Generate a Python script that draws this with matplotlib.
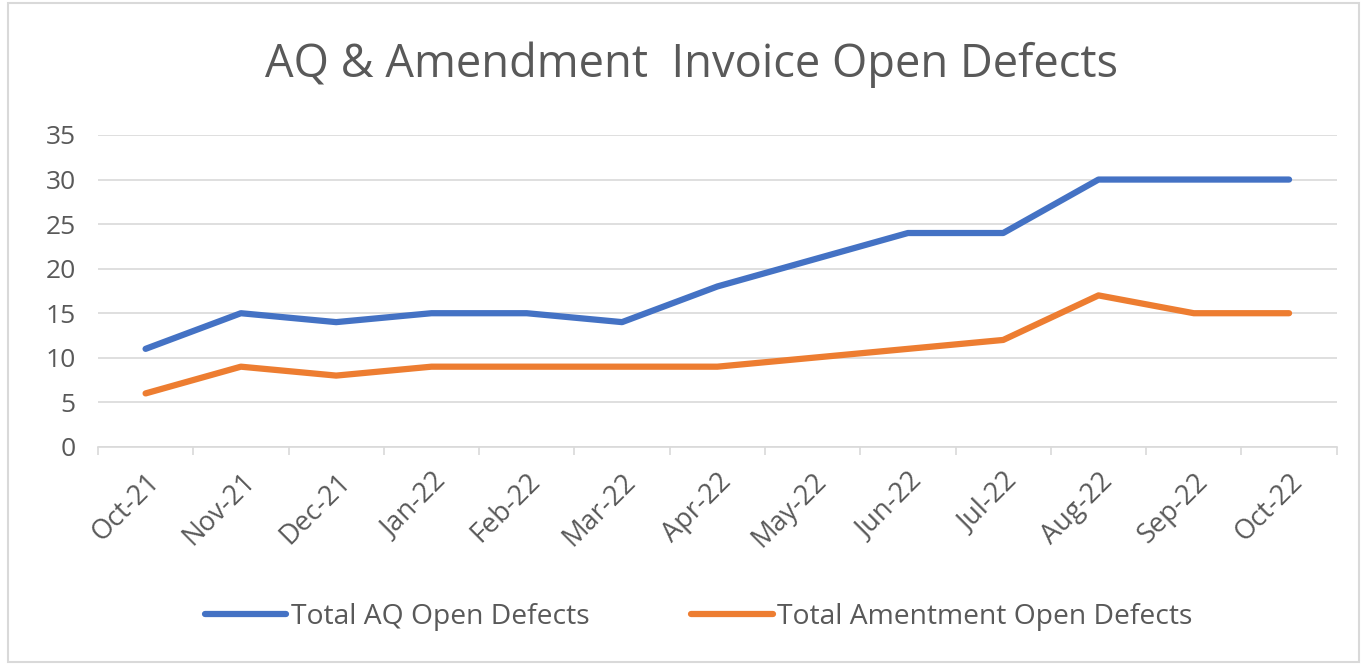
import matplotlib.pyplot as plt
from matplotlib.patches import Rectangle

# Data
months = ["Oct-21", "Nov-21", "Dec-21", "Jan-22", "Feb-22", "Mar-22", "Apr-22",
          "May-22", "Jun-22", "Jul-22", "Aug-22", "Sep-22", "Oct-22"]
aq_open = [11, 15, 14, 15, 15, 14, 18, 21, 24, 24, 30, 30, 30]
amend_open = [6, 9, 8, 9, 9, 9, 9, 10, 11, 12, 17, 15, 15]

plt.rcParams['font.family'] = ['Open Sans', 'DejaVu Sans']
text_color = "#595959"

fig = plt.figure(figsize=(13.64, 6.65), dpi=100)
ax = fig.add_axes([0.0718, 0.328, 0.9082, 0.469])

x = list(range(len(months)))
ax.plot(x, aq_open, color="#4472C4", linewidth=4.5, solid_capstyle="round",
        solid_joinstyle="round", label="Total AQ Open Defects")
ax.plot(x, amend_open, color="#ED7D31", linewidth=4.5, solid_capstyle="round",
        solid_joinstyle="round", label="Total Amentment Open Defects")

ax.set_xlim(-0.5, len(months) - 0.5)
ax.set_ylim(0, 35)
ax.set_yticks(range(0, 36, 5))
ax.grid(axis="y", color="#D9D9D9", linewidth=1.2)
ax.set_axisbelow(True)

# category labels centered, tick marks between categories
ax.set_xticks(x)
ax.set_xticklabels(months, rotation=45, ha="right", rotation_mode="anchor")
ax.set_xticks([i - 0.5 for i in range(len(months) + 1)], minor=True)
ax.tick_params(axis="x", which="major", length=0, pad=15, labelsize=19.5, labelcolor=text_color)
ax.tick_params(axis="x", which="minor", length=6, color="#D9D9D9", width=1.2)
ax.tick_params(axis="y", length=0, pad=16, labelsize=19, labelcolor=text_color)

for s in ["top", "right", "left"]:
    ax.spines[s].set_visible(False)
ax.spines["bottom"].set_color("#D9D9D9")
ax.spines["bottom"].set_linewidth(1.2)

fig.text(0.507, 0.903, "AQ & Amendment  Invoice Open Defects", ha="center", va="center",
         fontsize=32.6, color=text_color)

fig.legend(loc="center", bbox_to_anchor=(0.512, 0.072), ncol=2, frameon=False,
           fontsize=20.3, labelcolor=text_color, handlelength=2.9, handletextpad=0.15,
           columnspacing=3.6)

fig.patches.append(Rectangle((0.006, 0.005), 0.99, 0.99, transform=fig.transFigure,
                             fill=False, edgecolor="#D9D9D9", linewidth=1.5))

fig.savefig("out.png", dpi=100)
